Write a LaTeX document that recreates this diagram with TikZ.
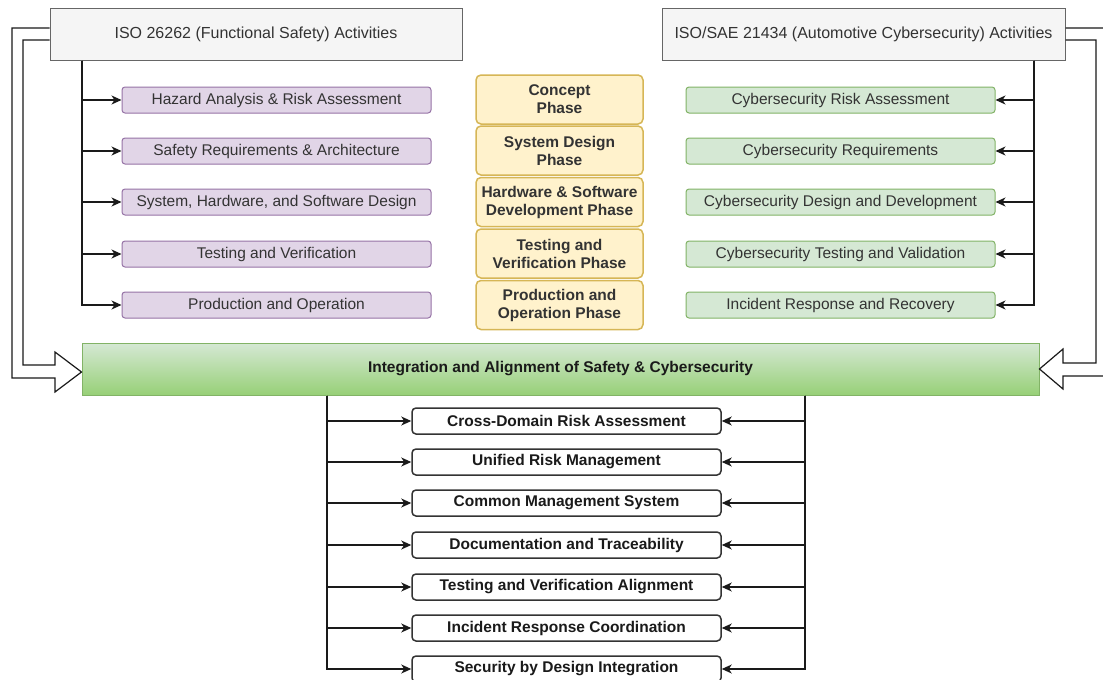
\documentclass[tikz,border=0pt]{standalone}
\usepackage{fontspec}
\setmainfont{Liberation Sans}
\usetikzlibrary{arrows.meta,calc}
\definecolor{hdrfill}{HTML}{F5F5F5}
\definecolor{hdrdraw}{HTML}{666666}
\definecolor{txt}{HTML}{333333}
\definecolor{pfill}{HTML}{E1D5E7}
\definecolor{pdraw}{HTML}{9673A6}
\definecolor{gfill}{HTML}{D5E8D4}
\definecolor{gdraw}{HTML}{82B366}
\definecolor{yfill}{HTML}{FFF2CC}
\definecolor{ydraw}{HTML}{D6B656}
\definecolor{itop}{HTML}{D5E8D4}
\definecolor{ibot}{HTML}{97D077}
\definecolor{lc}{HTML}{1A1A1A}
\begin{document}
\begin{tikzpicture}[x=1pt,y=-1pt,
  hdr/.style={draw=hdrdraw, fill=hdrfill, line width=1pt, minimum height=52pt, inner sep=0pt, text=txt, font=\fontsize{16}{19}\selectfont},
  pbox/.style={draw=pdraw, fill=pfill, rounded corners=3pt, line width=1pt, minimum width=309pt, minimum height=26pt, inner sep=0pt, text=txt, font=\fontsize{15.5}{18}\selectfont},
  gbox/.style={draw=gdraw, fill=gfill, rounded corners=3pt, line width=1pt, minimum width=309pt, minimum height=26pt, inner sep=0pt, text=txt, font=\fontsize{15.5}{18}\selectfont},
  ybox/.style={draw=ydraw, fill=yfill, rounded corners=5pt, line width=1.5pt, minimum width=167pt, minimum height=49pt, inner sep=0pt, text=txt, align=center, font=\bfseries\fontsize{15.5}{18}\selectfont},
  wbox/.style={draw=txt, fill=white, rounded corners=4pt, line width=1.5pt, minimum width=309pt, minimum height=26pt, inner sep=0pt, text=lc, font=\bfseries\fontsize{15.5}{18}\selectfont},
  conn/.style={draw=lc, line width=1.2pt, -{Stealth[length=10pt,width=9pt,inset=3pt]}},
  flex/.style={draw=lc, line width=1.2pt, line join=miter}
]
\useasboundingbox (0,0) rectangle (1103,680);
\clip (0,0) rectangle (1103,680);
\fill[white] (0,0) rectangle (1103,680);

\node[hdr, minimum width=412pt] (iso) at (256,34) {ISO 26262 (Functional Safety) Activities};
\node[hdr, minimum width=403pt] (sae) at (863.5,34) {ISO/SAE 21434 (Automotive Cybersecurity) Activities};

\node[pbox] (p1) at (276.5,100) {Hazard Analysis \& Risk Assessment};
\node[pbox] (p2) at (276.5,151) {Safety Requirements \& Architecture};
\node[pbox] (p3) at (276.5,202) {System, Hardware, and Software Design};
\node[pbox] (p4) at (276.5,254) {Testing and Verification};
\node[pbox] (p5) at (276.5,305) {Production and Operation};

\node[gbox] (g1) at (840.5,100) {Cybersecurity Risk Assessment};
\node[gbox] (g2) at (840.5,151) {Cybersecurity Requirements};
\node[gbox] (g3) at (840.5,202) {Cybersecurity Design and Development};
\node[gbox] (g4) at (840.5,254) {Cybersecurity Testing and Validation};
\node[gbox] (g5) at (840.5,305) {Incident Response and Recovery};

\node[ybox] (y1) at (559.5,99.5) {Concept\\Phase};
\node[ybox] (y2) at (559.5,150.5) {System Design\\Phase};
\node[ybox] (y3) at (559.5,202) {Hardware \& Software\\Development Phase};
\node[ybox] (y4) at (559.5,253.5) {Testing and\\Verification Phase};
\node[ybox] (y5) at (559.5,305) {Production and\\Operation Phase};

\node[draw=gdraw, line width=1pt, top color=itop, bottom color=ibot, minimum width=957pt, minimum height=52pt, inner sep=0pt, text=lc, font=\bfseries\fontsize{15.5}{18}\selectfont] (intg) at (560.5,369) {Integration and Alignment of Safety \& Cybersecurity};

\node[wbox] (b1) at (566.5,421) {Cross-Domain Risk Assessment};
\node[wbox] (b2) at (566.5,462) {Unified Risk Management};
\node[wbox] (b3) at (566.5,503) {Common Management System};
\node[wbox] (b4) at (566.5,545) {Documentation and Traceability};
\node[wbox] (b5) at (566.5,587) {Testing and Verification Alignment};
\node[wbox] (b6) at (566.5,628) {Incident Response Coordination};
\node[wbox] (b7) at (566.5,669) {Security by Design Integration};

% left tree
\coordinate (lt) at (iso.south -| 82,0);
\foreach \i in {1,...,5} \draw[conn] (lt) |- (p\i.west);
% right tree
\coordinate (rt) at (sae.south -| 1034,0);
\foreach \i in {1,...,5} \draw[conn] (rt) |- (g\i.east);
% bottom trees
\coordinate (bl) at (intg.south -| 327,0);
\coordinate (br) at (intg.south -| 805,0);
\foreach \i in {1,...,7} {
  \draw[conn] (bl) |- (b\i.west);
  \draw[conn] (br) |- (b\i.east);
}

% flex arrows
\draw[flex] ($(iso.west)+(0,-6)$) -- (12,28) -- (12,378) -- (55,378) -- (55,392)
  -- ($(intg.west)+(0,3)$) -- (55,352) -- (55,365) -- (23,365) -- (23,40) -- ($(iso.west)+(0,6)$);
\draw[flex] ($(sae.east)+(0,-6)$) -- (1108,28) -- (1108,376) -- (1063,376) -- (1063,389)
  -- (intg.east) -- (1063,349) -- (1063,363) -- (1096,363) -- (1096,40) -- ($(sae.east)+(0,6)$);
\end{tikzpicture}
\end{document}
